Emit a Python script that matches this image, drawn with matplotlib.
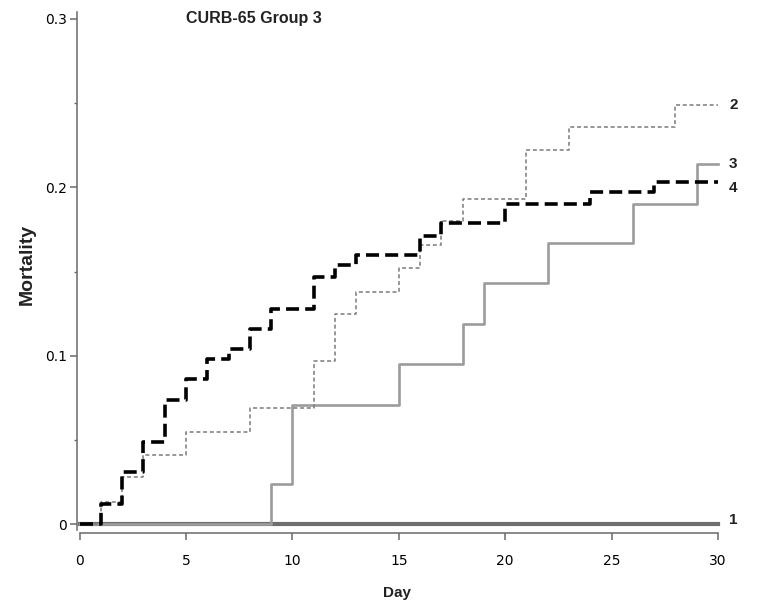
import matplotlib.pyplot as plt
import numpy as np

# data
day_1 = [0, 30]
mort_1 = [0, 0]

day_2 = [0, 1, 2, 3, 5, 8, 11, 12, 13, 15, 16, 17, 18, 21, 23, 28, 30]
mort_2 = [0, 0.013, 0.028, 0.041, 0.055, 0.069, 0.097, 0.125, 0.138, 0.152,
          0.166, 0.180, 0.193, 0.222, 0.236, 0.249, 0.249]

day_3 = [0, 9, 10, 15, 18, 19, 22, 26, 29, 30]
mort_3 = [0, 0.024, 0.071, 0.095, 0.119, 0.143, 0.167, 0.190, 0.214, 0.214]

day_4 = [0, 1, 2, 3, 4, 5, 6, 7, 8, 9, 11, 12, 13, 16, 17, 20, 24, 27, 30]
mort_4 = [0, 0.012, 0.031, 0.049, 0.074, 0.086, 0.098, 0.104, 0.116, 0.128,
          0.147, 0.154, 0.160, 0.171, 0.179, 0.190, 0.197, 0.203, 0.203]

x_ticks = [0, 5, 10, 15, 20, 25, 30]
y_ticks = [0, 0.1, 0.2, 0.3]
y_ticklabels = ['0', '0.1', '0.2', '0.3']

narrow = ['Liberation Sans Narrow', 'Liberation Sans', 'DejaVu Sans']
bold = ['Liberation Sans', 'DejaVu Sans']

fig = plt.figure(figsize=(7.69, 6.05), dpi=100)
ax = fig.add_axes([0.1036, 0.1236, 0.830, 0.8562])

# curves
ax.step(day_1, mort_1, where='post', color='#6e6e6e', lw=3.0, clip_on=False, zorder=2)
ax.step(day_3, mort_3, where='post', color='#9c9c9c', lw=1.9, clip_on=False, zorder=3)
ax.step(day_2, mort_2, where='post', color='#7a7a7a', lw=1.1,
        linestyle=(0, (2.6, 1.8)), clip_on=False, zorder=4)
ax.step(day_4, mort_4, where='post', color='black', lw=2.6,
        linestyle=(0, (3.6, 1.7)), clip_on=False, zorder=5)

# curve numbers at the right end
ends = [('1', mort_1[-1], 3), ('2', mort_2[-1], 0), ('3', mort_3[-1], 0), ('4', mort_4[-1], -4)]
for lab, yv, dy in ends:
    ax.annotate(lab, xy=(30, yv), xytext=(8, dy), textcoords='offset points',
                ha='left', va='center', fontsize=11, fontweight='bold',
                family=bold, color='#222222', annotation_clip=False)

ax.set_xlim(0, 30)
ax.set_ylim(-0.0035, 0.304)

ax.set_xticks(x_ticks)
ax.set_xticklabels([str(t) for t in x_ticks], family=narrow, fontsize=11, color='#666666')
ax.set_yticks(y_ticks)
ax.set_yticklabels(y_ticklabels, family=narrow, fontsize=11, color='#666666')
ax.set_yticks([0.05, 0.15, 0.25], minor=True)
ax.tick_params(axis='both', which='major', direction='out', length=5, width=1.1, color='#6a6a6a')
ax.tick_params(axis='y', which='minor', direction='out', length=2, width=1.0, color='#6a6a6a')
ax.tick_params(axis='x', pad=10)
ax.tick_params(axis='y', pad=2)

for s in ['top', 'right']:
    ax.spines[s].set_visible(False)
ax.spines['left'].set_position(('outward', 2.2))
ax.spines['bottom'].set_position(('outward', 2.2))
for s in ['left', 'bottom']:
    ax.spines[s].set_color('#6a6a6a')
    ax.spines[s].set_linewidth(1.1)

# labels and title
fig.text(397 / 769, 1 - 593 / 605, 'Day', ha='center', va='center',
         fontsize=11, fontweight='bold', family=bold, color='#222222')
fig.text(27 / 769, 1 - 264 / 605, 'Mortality', ha='center', va='center', rotation=90,
         fontsize=14, fontweight='bold', family=bold, color='#222222')
fig.text(254 / 769, 1 - 18 / 605, 'CURB-65 Group 3', ha='center', va='center',
         fontsize=11.5, fontweight='bold', family=bold, color='#222222')

plt.savefig('out.png', dpi=100)
